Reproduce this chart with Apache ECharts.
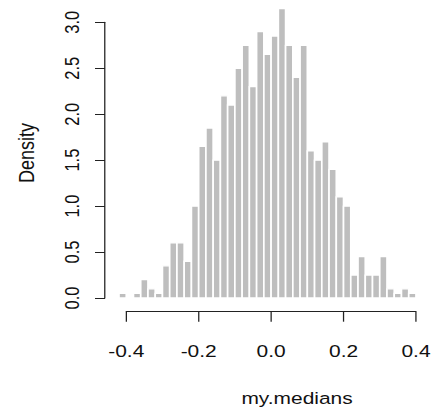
<!DOCTYPE html>
<html>
<head>
<meta charset="utf-8">
<script src="https://cdn.jsdelivr.net/npm/echarts@6/dist/echarts.min.js"></script>
<style>
  html, body { margin: 0; padding: 0; background: #fff; overflow: hidden; }
  #chart { width: 341.7px; height: 413px; transform: scaleX(1.27); transform-origin: 0 0; }
</style>
</head>
<body>
<div id="chart"></div>
<script>
// Histogram breaks (bin edges)
const breaks = [-0.42, -0.40, -0.38, -0.36, -0.34, -0.32, -0.30, -0.28, -0.26, -0.24, -0.22,
                -0.20, -0.18, -0.16, -0.14, -0.12, -0.10, -0.08, -0.06, -0.04, -0.02,
                 0.00,  0.02,  0.04,  0.06,  0.08,  0.10,  0.12,  0.14,  0.16,  0.18,
                 0.20,  0.22,  0.24,  0.26,  0.28,  0.30,  0.32,  0.34,  0.36,  0.38, 0.40];
// Density of each bin
const density = [0.05, 0, 0.05, 0.2, 0.1, 0.05, 0.35, 0.6, 0.6, 0.4,
                 1.0, 1.65, 1.85, 1.5, 2.2, 2.1, 2.5, 2.75, 2.3, 2.9,
                 2.65, 2.85, 3.15, 2.75, 2.4, 2.75, 1.6, 1.5, 1.7, 1.4,
                 1.1, 1.0, 0.25, 0.45, 0.25, 0.25, 0.45, 0.1, 0.05, 0.1, 0.05];
const xTickLabels = ['-0.4', '-0.2', '0.0', '0.2', '0.4'];
const yTickLabels = ['0.0', '0.5', '1.0', '1.5', '2.0', '2.5', '3.0'];
const xTitle = 'my.medians';
const yTitle = 'Density';

const FONT = "'Liberation Sans', Arial, sans-serif";
const data = density.map((d, i) => [breaks[i], breaks[i + 1], d]);

const chart = echarts.init(document.getElementById('chart'), null, { renderer: 'svg' });
chart.setOption({
  animation: false,
  backgroundColor: '#fff',
  grid: { left: 99.4, right: 11, top: 22.3, bottom: 115 },
  xAxis: {
    type: 'value', min: -0.4, max: 0.4, interval: 0.2,
    offset: 13.7,
    axisLine: { show: true, onZero: false, lineStyle: { color: '#222', width: 1 } },
    axisTick: { show: true, length: 10, inside: false, lineStyle: { color: '#222', width: 1 } },
    axisLabel: { fontSize: 16.5, color: '#111', fontFamily: FONT, margin: 31,
                 formatter: (v, i) => xTickLabels[i] },
    splitLine: { show: false }
  },
  yAxis: {
    type: 'value', min: 0, max: 3, interval: 0.5,
    offset: 16.7,
    axisLine: { show: true, onZero: false, lineStyle: { color: '#222', width: 1 } },
    axisTick: { show: true, length: 7.9, inside: false, lineStyle: { color: '#222', width: 1 } },
    axisLabel: { fontSize: 16.5, color: '#111', fontFamily: FONT, margin: 17.7, rotate: 90,
                 formatter: (v, i) => yTickLabels[i] },
    splitLine: { show: false }
  },
  graphic: [
    { type: 'text', x: 233.9, y: 398,
      style: { text: xTitle, fontSize: 16.5, fill: '#111', fontFamily: FONT, align: 'center', verticalAlign: 'middle' } },
    { type: 'text', x: 20.5, y: 153, rotation: Math.PI / 2,
      style: { text: yTitle, fontSize: 18, fill: '#111', fontFamily: FONT, align: 'center', verticalAlign: 'middle' } }
  ],
  series: [{
    type: 'custom',
    clip: false,
    encode: { x: [0, 1], y: 2 },
    data: data,
    renderItem: function (params, api) {
      const p0 = api.coord([api.value(0), 0]);
      const p1 = api.coord([api.value(1), api.value(2)]);
      return {
        type: 'rect',
        shape: { x: p0[0], y: p1[1], width: p1[0] - p0[0], height: p0[1] - p1[1] },
        style: { fill: '#bebebe', stroke: '#ffffff', lineWidth: 1.3 }
      };
    }
  }]
});
</script>
</body>
</html>
